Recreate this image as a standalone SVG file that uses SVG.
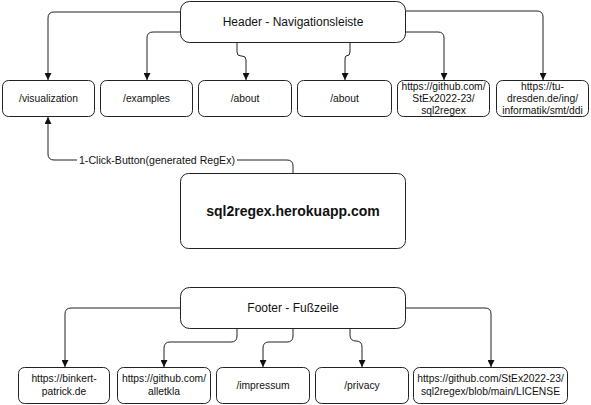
<svg xmlns="http://www.w3.org/2000/svg" width="591" height="405" viewBox="0 0 591 405">
<style>
.box{fill:#fff;stroke:#222;stroke-width:1}
.t{font-family:"Liberation Sans",Arial,sans-serif;font-size:10.3px;fill:#111;text-anchor:middle}
.big{font-size:12px}
.main{font-size:14px;font-weight:bold}
.lbl{font-family:"Liberation Sans",Arial,sans-serif;font-size:10.6px;fill:#111;text-anchor:middle}
.c{fill:none;stroke:#222;stroke-width:1}
</style>
<defs>
<marker id="arr" viewBox="0 0 10 10" refX="10" refY="5" markerWidth="8" markerHeight="7" markerUnits="userSpaceOnUse" orient="auto">
<path d="M0,0 L10,5 L0,10 z" fill="#111"/>
</marker>
</defs>
<rect width="591" height="405" fill="#fff"/>
<g id="connectors">
<path class="c" marker-end="url(#arr)" d="M180,12 H54 Q48,12 48,18 V80"/>
<path class="c" marker-end="url(#arr)" d="M180,32 H153 Q147,32 147,38 V80"/>
<path class="c" marker-end="url(#arr)" d="M237,42 V52 Q237,56 241,56 H242 Q246,56 246,60 V80"/>
<path class="c" marker-end="url(#arr)" d="M350,42 V52 Q350,56 346,56 Q345,56 345,60 V80"/>
<path class="c" marker-end="url(#arr)" d="M406,32 H438 Q444,32 444,38 V80"/>
<path class="c" marker-end="url(#arr)" d="M406,11 H537 Q543,11 543,17 V80"/>
<path class="c" marker-end="url(#arr)" d="M293,173 V166 Q293,160 287,160 H54 Q48,160 48,154 V117"/>
<rect x="77" y="153" width="160" height="14" fill="#fff"/>
<text class="lbl" x="157" y="164">1-Click-Button(generated RegEx)</text>
<path class="c" marker-end="url(#arr)" d="M180,308 H71 Q65,308 65,314 V367"/>
<path class="c" marker-end="url(#arr)" d="M237,329 V336 Q237,342 231,342 H170 Q164,342 164,348 V367"/>
<path class="c" marker-end="url(#arr)" d="M293,329 V336 Q293,342 287,342 H269 Q263,342 263,348 V367"/>
<path class="c" marker-end="url(#arr)" d="M350,329 V335 Q350,341 356,341 Q362,341 362,347 V367"/>
<path class="c" marker-end="url(#arr)" d="M406,308 H485 Q491,308 491,314 V367"/>
</g>
<g id="header">
<rect class="box" x="180.5" y="1.5" width="225" height="41" rx="9"/>
<text class="t big" x="293" y="26">Header - Navigationsleiste</text>
</g>
<g id="visualization">
<rect class="box" x="2.5" y="80.5" width="92" height="36" rx="6"/>
<text class="t" x="48.5" y="102">/visualization</text>
</g>
<g id="examples">
<rect class="box" x="100.5" y="80.5" width="92" height="36" rx="6"/>
<text class="t" x="146.5" y="102">/examples</text>
</g>
<g id="about1">
<rect class="box" x="198.5" y="80.5" width="93" height="36" rx="6"/>
<text class="t" x="245" y="102">/about</text>
</g>
<g id="about2">
<rect class="box" x="297.5" y="80.5" width="94" height="36" rx="6"/>
<text class="t" x="344.5" y="102">/about</text>
</g>
<g id="github-repo">
<rect class="box" x="397.5" y="80.5" width="92" height="36" rx="6"/>
<text class="t" x="443.5" y="90">https://github.com/</text>
<text class="t" x="443.5" y="102">StEx2022-23/</text>
<text class="t" x="443.5" y="114">sql2regex</text>
</g>
<g id="tu-dresden">
<rect class="box" x="496.5" y="80.5" width="92" height="36" rx="6"/>
<text class="t" x="542.5" y="90">https://tu-</text>
<text class="t" x="542.5" y="102">dresden.de/ing/</text>
<text class="t" x="542.5" y="114">informatik/smt/ddi</text>
</g>
<g id="main">
<rect class="box" x="180.5" y="173.5" width="225" height="75" rx="8"/>
<text class="t main" x="293" y="216">sql2regex.herokuapp.com</text>
</g>
<g id="footer">
<rect class="box" x="180.5" y="287.5" width="225" height="41" rx="9"/>
<text class="t big" x="293" y="312">Footer - Fußzeile</text>
</g>
<g id="binkert">
<rect class="box" x="18.5" y="367.5" width="91" height="36" rx="6"/>
<text class="t" x="64" y="382">https://binkert-</text>
<text class="t" x="64" y="395">patrick.de</text>
</g>
<g id="alletkla">
<rect class="box" x="117.5" y="367.5" width="93" height="36" rx="6"/>
<text class="t" x="164" y="382">https://github.com/</text>
<text class="t" x="164" y="395">alletkla</text>
</g>
<g id="impressum">
<rect class="box" x="216.5" y="367.5" width="93" height="36" rx="6"/>
<text class="t" x="263" y="389">/impressum</text>
</g>
<g id="privacy">
<rect class="box" x="315.5" y="367.5" width="93" height="36" rx="6"/>
<text class="t" x="362" y="389">/privacy</text>
</g>
<g id="license">
<rect class="box" x="413.5" y="367.5" width="154" height="36" rx="6"/>
<text class="t" x="490.5" y="382">https://github.com/StEx2022-23/</text>
<text class="t" x="490.5" y="395">sql2regex/blob/main/LICENSE</text>
</g>
</svg>
